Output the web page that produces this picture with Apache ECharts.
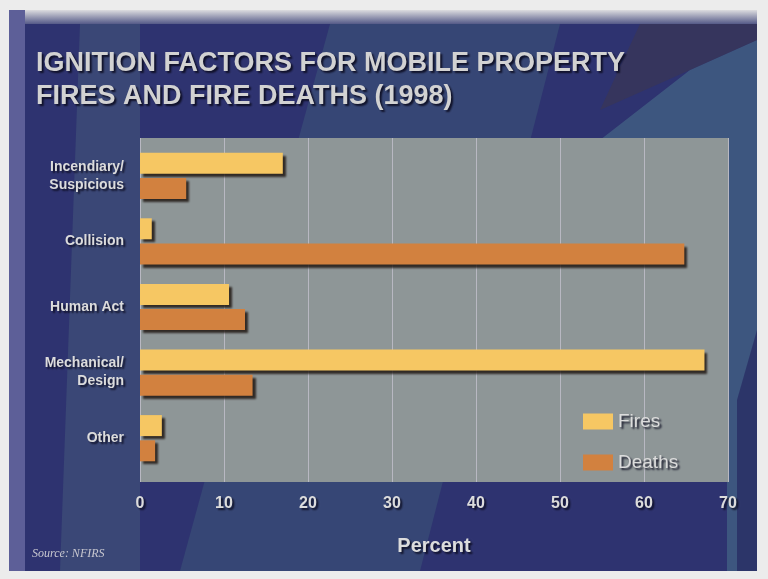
<!DOCTYPE html>
<html>
<head>
<meta charset="utf-8">
<script src="https://cdn.jsdelivr.net/npm/echarts@6/dist/echarts.min.js"></script>
<style>
  html, body { margin: 0; padding: 0; background: #ececec; }
  #main { width: 768px; height: 579px; }
</style>
</head>
<body>
<div id="main"></div>
<script>
// data
var categories = ['Incendiary/\nSuspicious', 'Collision', 'Human Act', 'Mechanical/\nDesign', 'Other'];
var fires = [17, 1.4, 10.6, 67.2, 2.6];
var deaths = [5.5, 64.8, 12.5, 13.4, 1.8];
var xTicks = [0, 10, 20, 30, 40, 50, 60, 70];

var font = '"Liberation Sans", Arial, sans-serif';
var txt = {
  color: '#dcdcdc', fontFamily: font, fontWeight: 'bold',
  textShadowColor: 'rgba(10,10,30,0.9)', textShadowOffsetX: 2, textShadowOffsetY: 2, textShadowBlur: 2
};

var chartDom = document.getElementById('main');
var myChart = echarts.init(chartDom);

var barShadow = { shadowColor: 'rgba(25,15,10,0.8)', shadowOffsetX: 3, shadowOffsetY: 3, shadowBlur: 2 };

var option = {
  backgroundColor: '#ececec',
  animation: false,
  graphic: [
    // frame + dark background
    { type: 'rect', z: -10, shape: { x: 9, y: 10, width: 748, height: 561 }, style: { fill: '#2e3370' } },
    { type: 'rect', z: -9, shape: { x: 9, y: 10, width: 748, height: 14 },
      style: { fill: new echarts.graphic.LinearGradient(0, 0, 0, 1, [{ offset: 0, color: '#dcdcdf' }, { offset: 1, color: '#555a88' }]) } },
    { type: 'rect', z: -9, shape: { x: 9, y: 10, width: 16, height: 561 }, style: { fill: '#5d5f98' } },
    // flag-like stripes
    { type: 'polygon', z: -8, shape: { points: [[330, 24], [560, 24], [420, 571], [180, 571]] }, style: { fill: 'rgba(70,105,125,0.35)' } },
    { type: 'polygon', z: -8, shape: { points: [[80, 24], [140, 24], [140, 571], [60, 571]] }, style: { fill: 'rgba(80,110,130,0.35)' } },
    { type: 'polygon', z: -8, shape: { points: [[600, 140], [690, 70], [757, 40], [757, 571], [727, 571], [727, 140]] }, style: { fill: 'rgba(75,115,140,0.55)' } },
    { type: 'polygon', z: -8, shape: { points: [[640, 24], [757, 24], [757, 40], [690, 70], [600, 110]] }, style: { fill: 'rgba(60,55,80,0.6)' } },
    { type: 'polygon', z: -8, shape: { points: [[757, 330], [757, 571], [737, 571], [737, 400]] }, style: { fill: 'rgba(40,45,100,0.8)' } },
    { type: 'text', left: 32, top: 548, style: { text: 'Source: NFIRS', font: 'italic 12px "Liberation Serif", serif', fill: '#c8c8d0' } }
  ],
  title: {
    text: 'IGNITION FACTORS FOR MOBILE PROPERTY\nFIRES AND FIRE DEATHS (1998)',
    left: 31, top: 42,
    textStyle: Object.assign({}, txt, { fontSize: 27, lineHeight: 33, color: '#d2d2d2' })
  },
  legend: {
    data: ['Fires', 'Deaths'],
    orient: 'vertical', left: 578, top: 407,
    icon: 'rect',
    itemWidth: 30, itemHeight: 16, itemGap: 22,
    textStyle: Object.assign({}, txt, { fontSize: 19, fontWeight: 'normal' })
  },
  grid: [
    { left: 140, right: 40, top: 138, bottom: 97, show: true, backgroundColor: '#8e9697', borderWidth: 0 },
    { left: 140, right: 40, top: 143, bottom: 108 }
  ],
  xAxis: [
    {
      gridIndex: 0, type: 'value', min: xTicks[0], max: xTicks[xTicks.length - 1], interval: 10,
      axisLine: { show: false }, axisTick: { show: false },
      splitLine: { show: true, lineStyle: { color: '#b8b8c2', width: 1 } },
      axisLabel: Object.assign({}, txt, { fontSize: 16, margin: 14 }),
      name: 'Percent', nameLocation: 'middle', nameGap: 54,
      nameTextStyle: Object.assign({}, txt, { fontSize: 20 })
    },
    { gridIndex: 1, type: 'value', min: 0, max: 70, show: false }
  ],
  yAxis: [
    { gridIndex: 0, type: 'category', data: categories, show: false },
    {
      gridIndex: 1, type: 'category', data: categories, inverse: true,
      axisLine: { show: false }, axisTick: { show: false },
      axisLabel: Object.assign({}, txt, { fontSize: 14, lineHeight: 18, margin: 16, align: 'right' })
    }
  ],
  series: [
    {
      name: 'Fires', type: 'bar', xAxisIndex: 1, yAxisIndex: 1, data: fires,
      barWidth: 21, barGap: '20%',
      itemStyle: Object.assign({ color: '#f6c763' }, barShadow)
    },
    {
      name: 'Deaths', type: 'bar', xAxisIndex: 1, yAxisIndex: 1, data: deaths,
      barWidth: 21,
      itemStyle: Object.assign({ color: '#d2813f' }, barShadow)
    }
  ]
};

myChart.setOption(option);
</script>
</body>
</html>
